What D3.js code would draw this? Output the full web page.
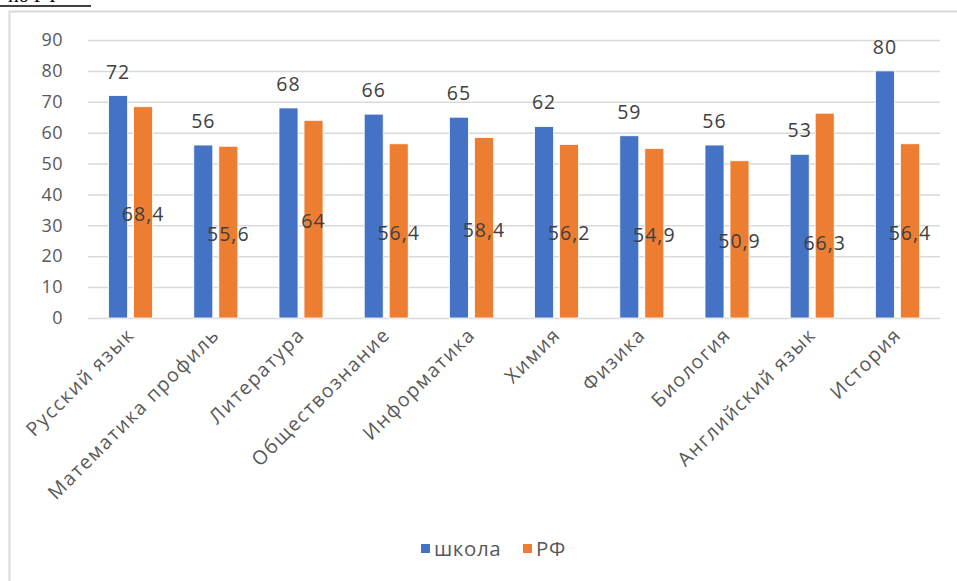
<!DOCTYPE html>
<html><head><meta charset="utf-8">
<script src="https://cdn.jsdelivr.net/npm/d3@7"></script>
<style>body{margin:0;background:#fff}svg{display:block}</style>
</head><body>
<svg id="c" width="957" height="581"></svg>
<script>
const categories = ["Русский язык","Математика профиль","Литература","Обществознание","Информатика","Химия","Физика","Биология","Английский язык","История"];
const seriesNames = ["школа","РФ"];
const schoolValues = [72,56,68,66,65,62,59,56,53,80];
const rfValues = [68.4,55.6,64,56.4,58.4,56.2,54.9,50.9,66.3,56.4];
const yTicks = [0,10,20,30,40,50,60,70,80,90];
const colors = ["#4472C4","#ED7D31"];

const svg = d3.select("#c");
const fmt = v => String(v).replace(".", ",");
const font = "'Open Sans', 'Noto Sans', sans-serif";
const gray = "#595959";

// clipped header text above frame
svg.append("text").attr("x",8).attr("y",2).attr("font-family","'Liberation Serif', serif")
  .attr("font-size",20).attr("fill","#000").text("по РФ");
svg.append("line").attr("x1",0).attr("x2",91).attr("y1",6).attr("y2",6).attr("stroke","#000").attr("stroke-width",1.6);

// chart frame
svg.append("path").attr("d","M9.5,581 V11.5 H957").attr("fill","none").attr("stroke","#d9d9d9").attr("stroke-width",2);

const y = d3.scaleLinear().domain([0,90]).range([318,40]);
const x0 = d3.scaleBand().domain(categories).range([88,940]).paddingInner(0).paddingOuter(0);
const bw0 = x0.bandwidth();
const x1 = d3.scaleBand().domain(seriesNames).range([bw0/2-22, bw0/2+22]).paddingInner(0.24).paddingOuter(0);

// grid
const yAxis = d3.axisLeft(y).tickValues(yTicks).tickSize(-(940-88)).tickPadding(25);
const ga = svg.append("g").attr("transform","translate(88,0)").call(yAxis);
ga.select(".domain").remove();
ga.selectAll(".tick line").attr("stroke","#d9d9d9").attr("stroke-width",1.5);
ga.selectAll(".tick text").attr("font-family",font).attr("font-size",18).attr("fill",gray).attr("letter-spacing",0.5);

// bars
const data = categories.map((c,i)=>({c, vals:[schoolValues[i], rfValues[i]]}));
const g = svg.append("g");
const cg = g.selectAll("g.cat").data(data).join("g").attr("class","cat")
  .attr("transform",d=>`translate(${x0(d.c)},0)`);
cg.selectAll("rect").data(d=>d.vals.map((v,j)=>({v,s:seriesNames[j],j})))
  .join("rect")
  .attr("x",d=>x1(d.s)).attr("width",x1.bandwidth())
  .attr("y",d=>y(d.v)).attr("height",d=>y(0)-y(d.v))
  .attr("fill",d=>colors[d.j]).attr("stroke","#fff").attr("stroke-width",0.8);

// school labels above bars
cg.append("text").attr("x",x1("школа")+x1.bandwidth()/2)
  .attr("y",d=>y(d.vals[0])-17).attr("text-anchor","middle")
  .attr("font-family",font).attr("font-size",19.5).attr("letter-spacing",1).attr("fill","#404040")
  .text(d=>fmt(d.vals[0]));
// RF labels in bar middle (one label was moved lower in the original)
const rfNudge = {"Английский язык": 25};
cg.append("text").attr("x",x1("РФ")+x1.bandwidth()/2)
  .attr("y",d=>y(d.vals[1]/2)+9+(rfNudge[d.c]||0)).attr("text-anchor","middle")
  .attr("font-family",font).attr("font-size",19.5).attr("letter-spacing",1).attr("fill","#404040")
  .text(d=>fmt(d.vals[1]));

// category labels
const cat = svg.append("g").selectAll("text").data(categories).join("text")
  .attr("transform",d=>`translate(${x0(d)+bw0/2+5},${336}) rotate(-45)`)
  .attr("text-anchor","end").attr("font-family",font).attr("font-size",19.5).attr("fill",gray)
  .text(d=>d);
// fit letter spacing so the longest label matches the original length
const longest = cat.filter(d=>d==="Математика профиль");
const L = longest.node().getComputedTextLength();
const n = "Математика профиль".length;
const ls = Math.max(0, Math.min(2, (233 - L) / n));
cat.attr("letter-spacing", ls);

// legend
const lg = svg.append("g").attr("transform","translate(421,549)");
const items = [{n:seriesNames[0],c:colors[0],x:0},{n:seriesNames[1],c:colors[1],x:102}];
items.forEach(it=>{
  lg.append("rect").attr("x",it.x).attr("y",-5).attr("width",9).attr("height",9).attr("fill",it.c);
  lg.append("text").attr("x",it.x+13).attr("y",7).attr("font-family",font).attr("font-size",20.5).attr("letter-spacing",0.6).attr("fill",gray).text(it.n);
});
</script>
</body></html>
